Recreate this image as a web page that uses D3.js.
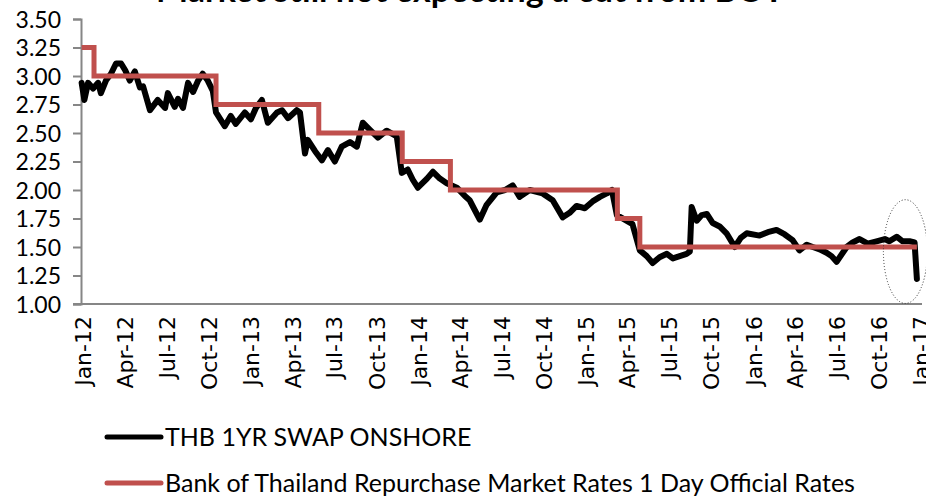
<!DOCTYPE html>
<head>
<meta charset="utf-8">
<script src="https://d3js.org/d3.v7.min.js"></script>
<style>
  body { margin: 0; background: #fff; }
  svg { display: block; }
  .ylab { font-family: Lato, "Open Sans", sans-serif; font-size: 23px; fill: #000; }
  .xlab { font-family: "DejaVu Sans", sans-serif; font-size: 22px; fill: #000; }
  .legend { font-family: Lato, "Open Sans", sans-serif; font-size: 25px; fill: #000; }
  .title { font-family: Lato, "Open Sans", sans-serif; font-size: 34px; font-weight: bold; fill: #000; }
</style>
</head>
<body>
<svg id="chart" width="926" height="498"></svg>
<script>
  // THB 1yr swap, every two weeks
  const swapDates = [
    "2011-12-29","2012-01-04","2012-01-12","2012-01-23","2012-02-03","2012-02-09","2012-02-20","2012-03-02",
    "2012-03-13","2012-03-24","2012-04-02","2012-04-12","2012-04-23","2012-05-04","2012-05-11","2012-05-26",
    "2012-06-12","2012-06-28","2012-07-04","2012-07-19","2012-07-26","2012-08-06","2012-08-17","2012-08-28",
    "2012-09-08","2012-09-18","2012-09-29","2012-10-10","2012-10-17","2012-11-05","2012-11-18","2012-11-29",
    "2012-12-19","2013-01-01","2013-01-12","2013-01-25","2013-02-07","2013-02-27","2013-03-10","2013-03-23",
    "2013-04-11","2013-04-18","2013-04-29","2013-05-05","2013-05-21","2013-06-05","2013-06-18","2013-07-03",
    "2013-07-18","2013-08-05","2013-08-20","2013-09-02","2013-09-17","2013-10-05","2013-10-24","2013-11-15",
    "2013-11-26","2013-12-09","2013-12-20","2013-12-31","2014-01-20","2014-02-02","2014-02-17","2014-03-04",
    "2014-03-26","2014-04-12","2014-04-23","2014-05-15","2014-05-30","2014-06-21","2014-07-09","2014-07-26",
    "2014-08-10","2014-09-01","2014-09-29","2014-10-21","2014-11-12","2014-11-27","2014-12-12","2014-12-30",
    "2015-01-16","2015-02-01","2015-02-16","2015-02-27","2015-03-10","2015-03-27","2015-04-13","2015-04-29",
    "2015-05-14","2015-05-27","2015-06-11","2015-06-27","2015-07-10","2015-07-25","2015-08-09","2015-08-16",
    "2015-08-20","2015-08-31","2015-09-11","2015-09-22","2015-10-05","2015-10-20","2015-11-04","2015-11-22",
    "2015-12-05","2015-12-18","2016-01-15","2016-02-02","2016-02-21","2016-03-10","2016-03-27","2016-04-11",
    "2016-04-27","2016-05-10","2016-05-25","2016-06-09","2016-06-20","2016-07-01","2016-07-23","2016-08-05",
    "2016-08-20","2016-09-07","2016-09-26","2016-10-14","2016-10-24","2016-11-09","2016-11-22","2016-12-07",
    "2016-12-18","2016-12-23"
  ];
  const swapValues = [
    2.94,2.79,2.94,2.89,2.94,2.85,2.96,3.02,
    3.11,3.11,3.05,2.96,3.04,2.90,2.91,2.70,
    2.79,2.72,2.85,2.73,2.80,2.72,2.94,2.86,
    2.96,3.02,2.96,2.87,2.68,2.56,2.65,2.58,
    2.68,2.62,2.72,2.79,2.59,2.68,2.70,2.63,
    2.70,2.68,2.32,2.44,2.34,2.26,2.35,2.25,
    2.38,2.42,2.38,2.59,2.53,2.46,2.52,2.47,
    2.15,2.18,2.09,2.02,2.10,2.16,2.10,2.06,
    2.02,1.95,1.91,1.74,1.87,1.98,2.00,2.04,
    1.94,2.00,1.97,1.91,1.76,1.80,1.86,1.84,
    1.90,1.94,1.97,2.00,1.78,1.74,1.70,1.47,
    1.42,1.36,1.41,1.44,1.40,1.42,1.44,1.46,
    1.85,1.73,1.78,1.79,1.71,1.68,1.62,1.50,
    1.58,1.62,1.60,1.63,1.65,1.61,1.56,1.47,
    1.52,1.50,1.48,1.45,1.42,1.37,1.50,1.54,
    1.57,1.53,1.55,1.57,1.55,1.59,1.55,1.55,
    1.54,1.22
  ];

  // BOT policy rate, value holds from each date until the next
  const rateDates = ["2011-12-29","2012-01-25","2012-10-17","2013-05-29","2013-11-27","2014-03-12","2015-03-11","2015-04-29","2016-12-23"];
  const rateValues = [3.25, 3.00, 2.75, 2.50, 2.25, 2.00, 1.75, 1.50, 1.50];

  const yTicks = [1.00, 1.25, 1.50, 1.75, 2.00, 2.25, 2.50, 2.75, 3.00, 3.25, 3.50];
  const seriesNames = ["THB 1YR SWAP ONSHORE", "Bank of Thailand Repurchase Market Rates 1 Day Official Rates"];
  const seriesColors = ["#000000", "#C0504D"];
  const titleText = "Market still not expecting a cut from BOT";

  const parse = d3.timeParse("%Y-%m-%d");
  const swap = swapDates.map((d, i) => ({date: parse(d), value: swapValues[i]}));
  const rate = rateDates.map((d, i) => ({date: parse(d), value: rateValues[i]}));

  const svg = d3.select("#chart");
  const plotLeft = 81, plotRight = 922, plotTop = 19, plotBottom = 304;

  const x = d3.scaleTime()
    .domain([parse("2012-01-01"), parse("2017-01-01")])
    .range([83, 921]);
  const y = d3.scaleLinear().domain([1, 3.5]).range([plotBottom, plotTop]);

  // title, mostly clipped by the top edge
  svg.append("text")
    .attr("class", "title")
    .attr("x", 470)
    .attr("y", 2)
    .attr("text-anchor", "middle")
    .text(titleText);

  // y axis
  const yAxis = svg.append("g")
    .attr("transform", `translate(${plotLeft},0)`)
    .call(d3.axisLeft(y).tickValues(yTicks).tickFormat(d3.format(".2f")).tickSize(8).tickPadding(12));
  yAxis.select(".domain").attr("stroke", "#868686").attr("stroke-width", 2);
  yAxis.selectAll(".tick line").attr("stroke", "#868686").attr("stroke-width", 2);
  yAxis.selectAll(".tick text").attr("class", "ylab").attr("dy", "0.36em");

  // x axis
  const xAxis = svg.append("g")
    .attr("transform", `translate(0,${plotBottom})`)
    .call(d3.axisBottom(x).ticks(d3.timeMonth.every(3)).tickFormat(d3.timeFormat("%b-%y")).tickSize(0));
  xAxis.select(".domain").attr("d", `M${plotLeft - 8},0H${plotRight}`).attr("stroke", "#868686").attr("stroke-width", 2);
  xAxis.selectAll(".tick text")
    .attr("class", "xlab")
    .attr("transform", "rotate(-90)")
    .attr("text-anchor", "end")
    .attr("x", -12)
    .attr("y", 0)
    .attr("dy", "0.36em");

  const line = d3.line().x(d => x(d.date)).y(d => y(d.value));

  svg.append("path")
    .datum(swap)
    .attr("fill", "none")
    .attr("stroke", seriesColors[0])
    .attr("stroke-width", 6)
    .attr("stroke-linejoin", "round")
    .attr("stroke-linecap", "round")
    .attr("d", line);

  svg.append("path")
    .datum(rate)
    .attr("fill", "none")
    .attr("stroke", seriesColors[1])
    .attr("stroke-width", 5)
    .attr("d", line.curve(d3.curveStepAfter));

  // dotted ellipse around the last drop
  svg.append("ellipse")
    .attr("cx", x(parse("2016-11-28")))
    .attr("cy", y(1.46))
    .attr("rx", 22)
    .attr("ry", y(1) - y(1.455))
    .attr("fill", "none")
    .attr("stroke", "#333")
    .attr("stroke-width", 1)
    .attr("stroke-dasharray", "1,2");

  // legend
  const legend = svg.append("g")
    .selectAll("g")
    .data(seriesNames)
    .join("g")
    .attr("transform", (d, i) => `translate(0,${437 + i * 46})`);
  legend.append("line")
    .attr("x1", 107).attr("x2", 161)
    .attr("stroke", (d, i) => seriesColors[i])
    .attr("stroke-width", 5)
    .attr("stroke-linecap", "round");
  legend.append("text")
    .attr("class", "legend")
    .attr("x", 165)
    .attr("dy", "0.36em")
    .text(d => d);
</script>
</body>
